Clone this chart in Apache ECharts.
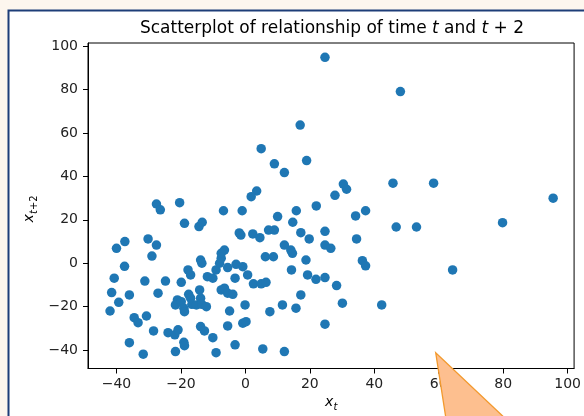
<!DOCTYPE html>
<html>
<head>
<meta charset="utf-8">
<script src="https://cdn.jsdelivr.net/npm/echarts@6/dist/echarts.min.js"></script>
<style>
html,body{margin:0;padding:0;background:#fdf6ee;}
#chart{width:584px;height:416px;}
</style>
</head>
<body>
<div id="chart"></div>
<script>
// ---- data ----
const xValues = [
  24.7, 48.1, 17.0, 4.9, 19.0, 9.0, 12.1, 30.4, 31.4, 27.8,
  45.8, 58.4, 95.5, 3.5, 1.8, 22.0, 34.2, 37.3, 15.8, 10.0,
  14.7, 79.8, 46.8, 53.1, 17.2, 19.8, 24.7, 34.5, 24.7, 26.5,
  18.8, 36.3, 37.3, 64.3, 19.3, 21.9, 24.7, 28.3, 17.2, 15.7,
  30.1, 42.3, 24.7, 2.3, 4.5, 7.2, 9.0, 12.1, 14.1, 14.6,
  6.2, 8.7, 14.3, 2.5, 4.9, 6.4, 11.5, 7.6, 5.4, 12.1,
  -27.6, -26.4, -20.4, -6.8, -1.0, -18.9, -14.4, -13.4, -1.9, -1.4,
  -40.0, -37.4, -30.2, -27.6, -29.0, -37.5, -40.7, -31.2, -24.8, -19.9,
  -41.5, -36.0, -27.1, -39.3, -42.0, -34.5, -33.3, -30.7, -28.5, -24.0,
  -21.9, -20.9, -19.1, -18.9, -21.7, -36.0, -31.7, -13.9, -13.5, -17.8,
  -17.0, -11.8, -10.1, -9.1, -8.0, -7.5, -6.5, -7.5, -5.5, -2.9,
  -0.8, 0.7, -3.2, -7.5, -6.5, -5.5, -3.9, -4.9, -0.1, -5.5,
  -0.8, 0.2, -3.2, -9.1, -10.1, -13.9, -12.7, -21.1, -21.7, -19.9,
  -19.1, -18.9, -17.6, -17.0, -16.6, -15.2, -14.2, -13.9, -13.5, -12.1
];
const yValues = [
  94.9, 79.1, 63.7, 52.8, 47.3, 45.8, 41.8, 36.5, 34.1, 31.3,
  36.9, 36.9, 30.0, 33.3, 30.7, 26.4, 21.8, 24.2, 24.2, 21.5,
  18.9, 18.7, 16.7, 16.7, 14.1, 11.2, 14.7, 11.2, 8.4, 6.9,
  1.5, 1.2, -1.2, -3.1, -5.4, -7.4, -6.6, -10.3, -14.6, -20.7,
  -18.4, -19.2, -28.1, 13.5, 11.8, 15.3, 15.3, 8.4, 6.1, 4.6,
  3.0, 3.0, -3.1, -9.5, -9.5, -8.8, -19.2, -22.3, -39.5, -40.7,
  27.3, 24.6, 27.9, 24.2, 24.2, 18.4, 16.9, 18.9, 14.0, 13.0,
  6.9, 10.0, 11.2, 8.4, 3.3, -1.4, -6.9, -8.2, -8.2, -8.8,
  -13.5, -14.6, -13.8, -18.0, -22.0, -25.1, -27.4, -24.3, -31.2, -32.0,
  -33.0, -30.7, -36.4, -38.0, -40.7, -36.6, -41.9, 1.5, 0.0, -3.1,
  -5.4, -6.2, -6.9, -3.1, 0.0, 2.3, 6.1, 4.6, -2.0, -0.5,
  -1.6, -5.4, -6.9, -12.3, -11.5, -13.8, -14.3, -22.0, -19.2, -28.9,
  -27.6, -26.9, -37.6, -41.2, -34.3, -29.2, -31.2, -16.9, -19.2, -17.7,
  -20.7, -22.3, -14.3, -16.1, -18.9, -19.2, -12.3, -16.1, -18.9, -20.0
];
const xTicks = [-40, -20, 0, 20, 40, 60, 80, 100];
const yTicks = [-40, -20, 0, 20, 40, 60, 80, 100];
const titlePlain = 'Scatterplot of relationship of time ';
const titleMath = '{i|t} and {i|t} + 2';

// ---- chart ----
const FONT = 'DejaVu Sans';
const minus = v => String(v).replace('-', '\u2212');
const points = xValues.map((x, i) => [x, yValues[i]]);
const chart = echarts.init(document.getElementById('chart'), null, {renderer: 'canvas'});

const axisCommon = {
  type: 'value',
  splitLine: {show: false},
  axisLine: {show: true, onZero: false, lineStyle: {color: '#000', width: 1}},
  axisTick: {show: true, inside: false, length: 5, lineStyle: {color: '#000', width: 1}},
  axisLabel: {fontFamily: FONT, fontSize: 14, color: '#222', formatter: minus}
};

chart.setOption({
  animation: false,
  backgroundColor: '#fdf6ee',
  grid: {left: 88, top: 43, width: 488, height: 325.5, show: true,
         borderColor: '#000', borderWidth: 1, backgroundColor: 'transparent', containLabel: false},
  xAxis: Object.assign({}, axisCommon, {
    min: -48.84, max: 102.0,
    axisTick: Object.assign({}, axisCommon.axisTick, {customValues: xTicks}),
    axisLabel: Object.assign({}, axisCommon.axisLabel, {customValues: xTicks, margin: 9})
  }),
  yAxis: Object.assign({}, axisCommon, {
    min: -48.5, max: 101.5,
    axisTick: Object.assign({}, axisCommon.axisTick, {customValues: yTicks}),
    axisLabel: Object.assign({}, axisCommon.axisLabel, {customValues: yTicks, margin: 10})
  }),
  series: [{
    type: 'scatter',
    data: points,
    symbol: 'circle',
    symbolSize: 9.5,
    itemStyle: {color: '#1f77b4', opacity: 1},
    z: 3
  }],
  graphic: [
    {type: 'rect', z: -100, shape: {x: 8.5, y: 10.5, width: 620, height: 430},
     style: {fill: '#ffffff', stroke: '#1d3d78', lineWidth: 2}},
    {type: 'text', z: 10, x: 332, y: 29,
     style: {text: titlePlain + titleMath, align: 'center', verticalAlign: 'middle',
             fontFamily: FONT, fontSize: 17, fill: '#000',
             rich: {i: {fontFamily: FONT, fontSize: 17, fontStyle: 'italic', fill: '#000'}}}},
    // x label: x_t
    {type: 'text', z: 10, x: 325, y: 402.5,
     style: {text: 'x', align: 'left', verticalAlign: 'middle', fontFamily: FONT,
             fontSize: 14, fontStyle: 'italic', fill: '#000'}},
    {type: 'text', z: 10, x: 333.5, y: 407,
     style: {text: 't', align: 'left', verticalAlign: 'middle', fontFamily: FONT,
             fontSize: 10, fontStyle: 'italic', fill: '#000'}},
    // y label: x_{t+2}
    {type: 'group', x: 33.5, y: 209, rotation: Math.PI / 2, z: 10, children: [
      {type: 'text', x: -13.5, y: -4, z: 10,
       style: {text: 'x', align: 'left', verticalAlign: 'middle', fontFamily: FONT,
               fontSize: 14, fontStyle: 'italic', fill: '#000'}},
      {type: 'text', x: -5, y: 0.5, z: 10,
       style: {text: '{i|t}+2', align: 'left', verticalAlign: 'middle', fontFamily: FONT,
               fontSize: 10, fill: '#000',
               rich: {i: {fontFamily: FONT, fontSize: 10, fontStyle: 'italic', fill: '#000'}}}}
    ]},
    // callout pointer
    {type: 'polygon', z: 100, shape: {points: [[435.7, 352.7], [446.5, 422], [509, 422]]},
     style: {fill: '#fdbf8f', stroke: '#f39a2e', lineWidth: 1.3}}
  ]
});
</script>
</body>
</html>
